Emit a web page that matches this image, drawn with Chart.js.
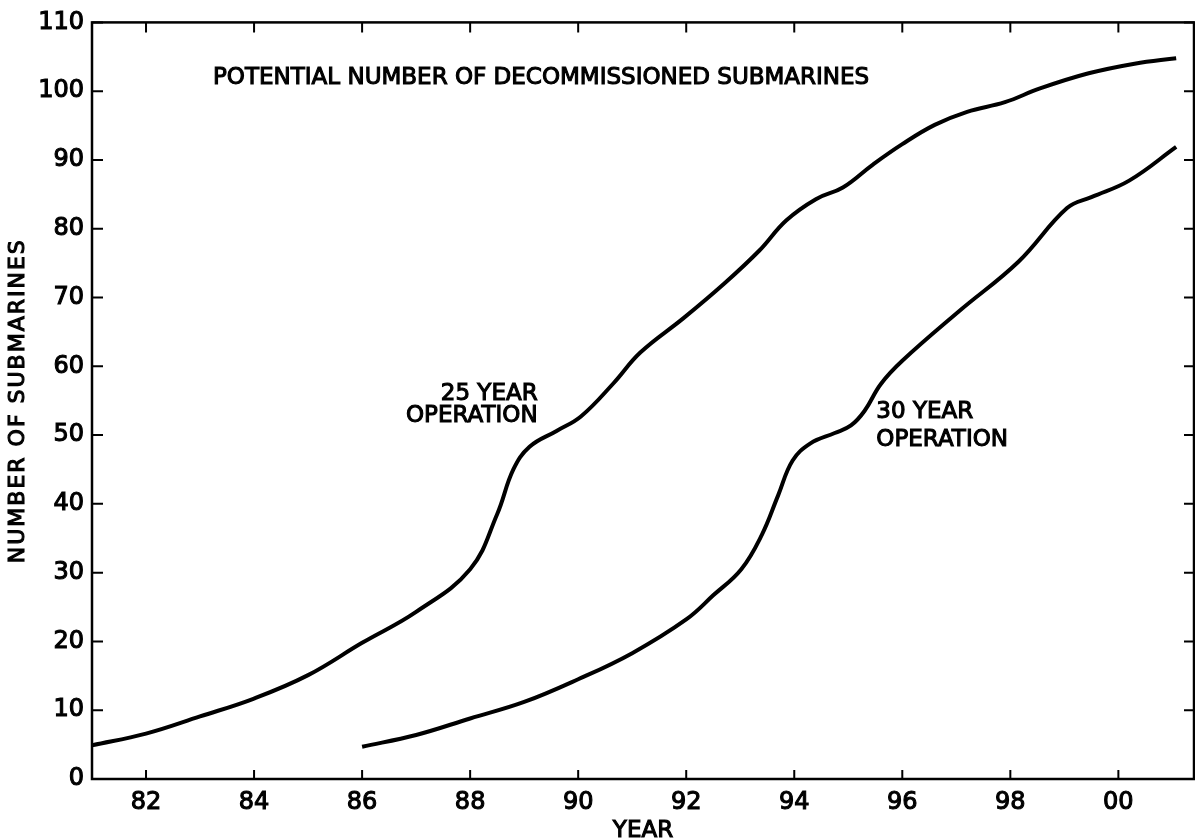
<!DOCTYPE html>
<html><head><meta charset="utf-8">
<script src="https://cdn.jsdelivr.net/npm/chart.js@4/dist/chart.umd.min.js"></script>
<style>html,body{margin:0;padding:0;background:#fff;}canvas{display:block}</style>
</head><body>
<canvas id="c" width="1195" height="840"></canvas>
<script>
// ---- data ----
const years25  = [81, 82, 83, 84, 85, 86, 87, 88, 88.5, 88.8, 89.1, 89.6, 90.05, 90.65, 91.15, 91.95, 92.7, 93.35, 93.85, 94.4, 94.9, 95.45, 96, 96.6, 97.2, 97.9, 98.55, 99.45, 100.3, 101.07];
const values25 = [4.9, 6.6, 9.1, 11.7, 15.1, 19.8, 24.3, 30.5, 38.5, 45, 48.3, 50.6, 52.7, 57.5, 62, 67, 72, 76.8, 81.2, 84.3, 86, 89.3, 92.3, 95.1, 97, 98.4, 100.4, 102.6, 104, 104.8];
const years30  = [86, 87, 88, 89, 90, 91, 92, 92.5, 93.02, 93.4, 93.7, 93.97, 94.3, 94.75, 95.05, 95.3, 95.6, 96, 97.05, 98.15, 99.05, 99.5, 100.2, 101.07];
const values30 = [4.7, 6.4, 8.8, 11.2, 14.5, 18.3, 23.2, 26.7, 30.5, 35.5, 41.2, 46.3, 48.8, 50.3, 51.4, 53.5, 57.4, 60.8, 68, 75.2, 83, 84.6, 87, 91.9];
const xTickValues = [82, 84, 86, 88, 90, 92, 94, 96, 98, 100];
const xTickLabels = ['82', '84', '86', '88', '90', '92', '94', '96', '98', '00'];
const yTickValues = [0, 10, 20, 30, 40, 50, 60, 70, 80, 90, 100, 110];
const yTickLabels = ['0', '10', '20', '30', '40', '50', '60', '70', '80', '90', '100', '110'];
const titleText = 'POTENTIAL NUMBER OF DECOMMISSIONED SUBMARINES';
const xAxisTitle = 'YEAR';
const yAxisTitle = 'NUMBER OF SUBMARINES';
const label25 = ['25 YEAR', 'OPERATION'];
const label30 = ['30 YEAR', 'OPERATION'];

const FONT = '"DejaVu Sans", sans-serif';

const decorPlugin = {
  id: 'decor',
  afterDraw(chart) {
    const ctx = chart.ctx;
    const a = chart.chartArea;
    const xs = chart.scales.x, ys = chart.scales.y;
    ctx.save();
    ctx.strokeStyle = '#000';
    ctx.lineWidth = 2.5;
    ctx.strokeRect(a.left, a.top, a.right - a.left, a.bottom - a.top);
    ctx.lineWidth = 2;
    ctx.beginPath();
    xTickValues.forEach(v => {
      const px = xs.getPixelForValue(v);
      ctx.moveTo(px, a.bottom); ctx.lineTo(px, a.bottom - 9);
      ctx.moveTo(px, a.top); ctx.lineTo(px, a.top + 10);
    });
    yTickValues.forEach(v => {
      const py = ys.getPixelForValue(v);
      ctx.moveTo(a.left, py); ctx.lineTo(a.left + 11, py);
      ctx.moveTo(a.right, py); ctx.lineTo(a.right - 10, py);
    });
    ctx.stroke();

    ctx.fillStyle = '#000';
    ctx.strokeStyle = '#000';
    ctx.lineWidth = 1.1;
    ctx.textBaseline = 'middle';
    ctx.font = '23px ' + FONT;
    const txt = (s, x, y) => { ctx.fillText(s, x, y); ctx.strokeText(s, x, y); };

    // title inside plot
    ctx.textAlign = 'left';
    txt(titleText, xs.getPixelForValue(83.24), ys.getPixelForValue(101.9));

    // series labels
    ctx.textAlign = 'right';
    txt(label25[0], xs.getPixelForValue(89.25), ys.getPixelForValue(55.9));
    txt(label25[1], xs.getPixelForValue(89.25), ys.getPixelForValue(52.7));
    ctx.textAlign = 'left';
    txt(label30[0], xs.getPixelForValue(95.52), ys.getPixelForValue(53.3));
    txt(label30[1], xs.getPixelForValue(95.52), ys.getPixelForValue(49.3));

    // axis titles
    ctx.textAlign = 'center';
    txt(xAxisTitle, (a.left + a.right) / 2, 831);
    ctx.translate(18, (a.top + a.bottom) / 2);
    ctx.rotate(-Math.PI / 2);
    ctx.font = '22px ' + FONT;
    ctx.letterSpacing = '2px';
    txt(yAxisTitle, 0, 0);
    ctx.restore();
  }
};

const tickFont = { family: FONT, size: 24 };

new Chart(document.getElementById('c').getContext('2d'), {
  type: 'line',
  data: {
    datasets: [
      { label: '25 YEAR OPERATION', data: years25.map((x, i) => ({ x, y: values25[i] })),
        borderColor: '#000', borderWidth: 4, pointRadius: 0, tension: 0.4, fill: false },
      { label: '30 YEAR OPERATION', data: years30.map((x, i) => ({ x, y: values30[i] })),
        borderColor: '#000', borderWidth: 4, pointRadius: 0, tension: 0.4, fill: false }
    ]
  },
  options: {
    responsive: false,
    animation: false,
    devicePixelRatio: 1,
    layout: { padding: { top: 16, right: 1, left: 0, bottom: 0 } },
    plugins: { legend: { display: false }, tooltip: { enabled: false } },
    scales: {
      x: {
        type: 'linear', min: 81, max: 101.4,
        grid: { display: false, drawTicks: false },
        border: { display: false },
        afterBuildTicks: s => { s.ticks = xTickValues.map(v => ({ value: v })); },
        afterFit: s => { s.height = 61; },
        ticks: {
          padding: 9, color: '#000', font: tickFont, maxRotation: 0, autoSkip: false,
          textStrokeColor: '#000', textStrokeWidth: 1.1,
          callback: v => xTickLabels[xTickValues.indexOf(v)]
        }
      },
      y: {
        type: 'linear', min: 0, max: 110,
        grid: { display: false, drawTicks: false },
        border: { display: false },
        afterBuildTicks: s => { s.ticks = yTickValues.map(v => ({ value: v })); },
        afterFit: s => { s.width = 92; },
        ticks: {
          padding: 8, color: '#000', font: tickFont, autoSkip: false,
          textStrokeColor: '#000', textStrokeWidth: 1.1,
          callback: v => yTickLabels[yTickValues.indexOf(v)]
        }
      }
    }
  },
  plugins: [decorPlugin]
});
</script>
</body></html>
